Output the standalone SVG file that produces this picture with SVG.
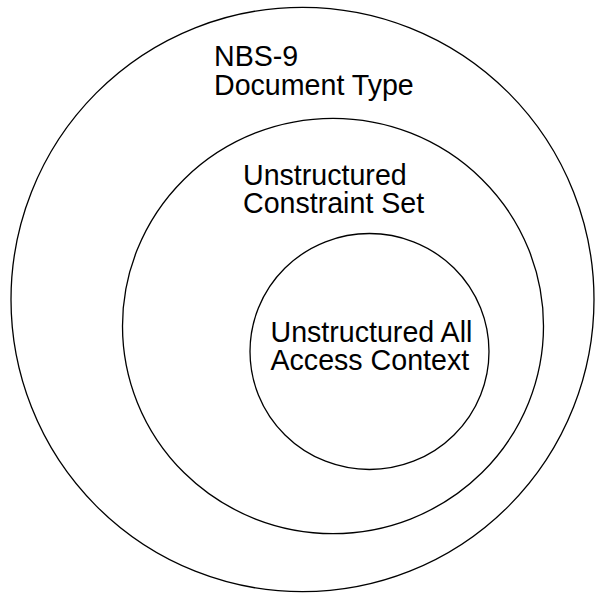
<svg xmlns="http://www.w3.org/2000/svg" width="595" height="593" viewBox="0 0 595 593">
  <style>
    .ring { fill: none; stroke: #000; stroke-width: 1.3; }
    .label { font-family: "Liberation Sans", Arial, Helvetica, sans-serif; font-size: 28.6px; fill: #000; }
  </style>
  <rect x="0" y="0" width="595" height="593" fill="#fff"/>

  <!-- outermost set -->
  <g id="document-type">
    <ellipse class="ring" cx="302.5" cy="299.5" rx="291.5" ry="292.2"/>
    <text class="label" x="214" y="66">NBS-9</text>
    <text class="label" x="214" y="95">Document Type</text>
  </g>

  <!-- middle set -->
  <g id="constraint-set">
    <ellipse class="ring" cx="333" cy="326" rx="210.5" ry="207.6"/>
    <text class="label" x="243" y="185">Unstructured</text>
    <text class="label" x="243" y="213">Constraint Set</text>
  </g>

  <!-- innermost set -->
  <g id="access-context">
    <ellipse class="ring" cx="369.5" cy="351.5" rx="119.5" ry="118"/>
    <text class="label" x="270.5" y="342">Unstructured All</text>
    <text class="label" x="270.5" y="370">Access Context</text>
  </g>

  <g id="connectors"></g>
</svg>
